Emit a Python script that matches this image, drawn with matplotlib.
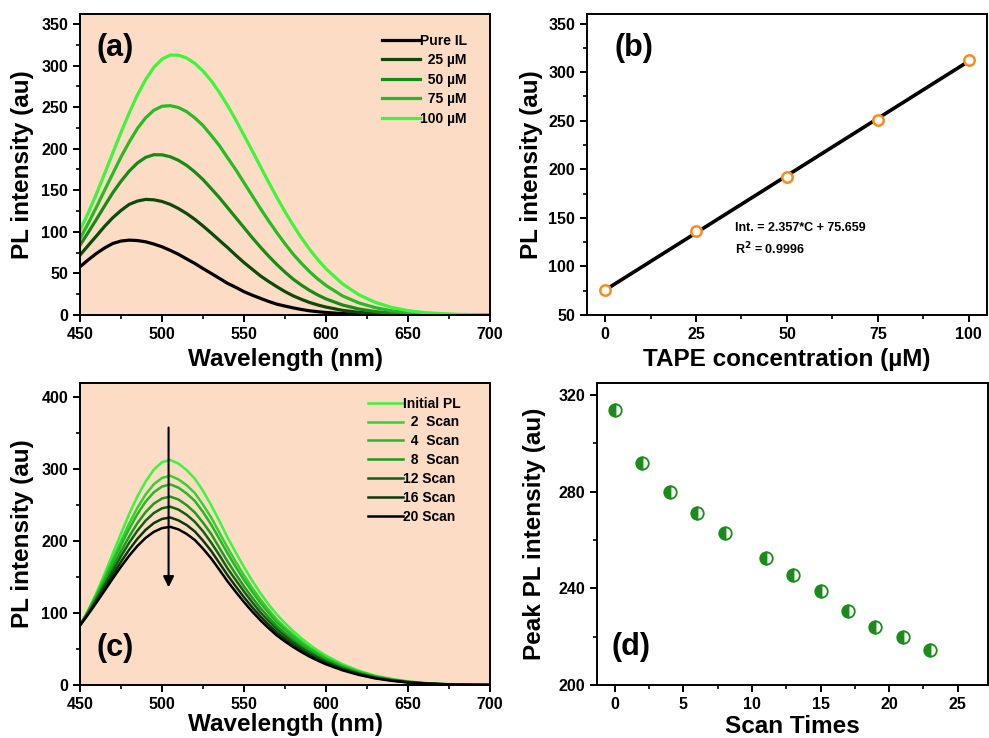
import numpy as np
import matplotlib
matplotlib.use("Agg")
import matplotlib.pyplot as plt
from matplotlib.ticker import MultipleLocator

plt.rcParams['font.family'] = ['Liberation Sans', 'DejaVu Sans']
plt.rcParams['font.weight'] = 'bold'
plt.rcParams['axes.labelweight'] = 'bold'
plt.rcParams['axes.linewidth'] = 1.4

# ---------------- data ----------------
wavelength = [450, 455, 460, 465, 470, 475, 480, 485, 490, 495, 500, 505, 510,
              515, 520, 525, 530, 535, 540, 545, 550, 555, 560, 565, 570, 575,
              580, 585, 590, 595, 600, 610, 620, 630, 640, 650, 660, 670, 680,
              690, 700]

# (a) PL spectra vs TAPE concentration
pl_pure_il = [58, 66.3, 74, 80.6, 86, 88.9, 90, 89.5, 88, 85.3, 82, 77.7, 73,
              67.4, 62, 55.8, 50, 44, 38, 33.2, 28, 23.8, 20, 16.3, 13, 10.7,
              8.5, 6.6, 5, 3.9, 3, 1.7, 1, 0.5, 0.3, 0.2, 0.1, 0.1, 0, 0, 0]
pl_25uM = [72, 83.6, 95, 106.6, 117, 125.7, 133, 137, 139, 138.5, 136.5, 133,
           128, 122, 115, 107, 98.5, 89.7, 81, 71.8, 63, 55, 47, 40.3, 34, 28.1,
           23, 18.8, 15, 12, 9.5, 5.6, 3.2, 1.7, 0.9, 0.5, 0.2, 0.1, 0, 0, 0]
pl_50uM = [84, 99.2, 115, 131.2, 147, 160.8, 173, 182.8, 189.5, 192.7, 192.6,
           190.3, 186, 179.9, 172, 162.8, 152, 141, 129, 117, 105, 93, 81.6,
           70.8, 60.7, 51.5, 43, 35.9, 29.5, 24, 19.3, 12, 7.2, 4.1, 2.3, 1.2,
           0.6, 0.3, 0.1, 0, 0]
pl_75uM = [92, 110, 129.6, 150, 170, 190, 208, 224.3, 237, 246.2, 251, 251.7,
           249.5, 244.5, 237, 227.8, 216, 203.6, 189, 174.6, 159, 143.5, 128,
           113.2, 99, 85.6, 73, 62.1, 52, 43.2, 35.5, 23, 14.5, 8.8, 5, 2.8,
           1.5, 0.8, 0.4, 0.2, 0.1]
pl_100uM = [102, 122.7, 145.6, 169.9, 195, 219.6, 243, 264.7, 283, 297.8, 307.7,
            312.6, 312.4, 309, 302.6, 293.4, 281.7, 267.6, 251.7, 234.5, 216,
            197.4, 178.5, 159.7, 141.5, 124.1, 107.8, 92.7, 78.9, 66.5, 55.5,
            37.5, 24.3, 15.2, 9.1, 5.2, 2.9, 1.6, 0.8, 0.4, 0.2]
conc_labels = ["Pure IL", "  25 µM", "  50 µM", "  75 µM", "100 µM"]
conc_colors = ["#000000", "#0c4a0c", "#158c15", "#24bb24", "#3cf53c"]

# (b) linear fit
tape_conc = [0, 25, 50, 75, 100]
tape_peak = [75.5, 136.5, 192.5, 251, 312.5]
fit_slope = 2.357
fit_intercept = 75.659

# (c) PL spectra vs scan number
scan_init = [83, 104, 128, 154.7, 183, 210.6, 238, 262.4, 283, 299.5, 310, 313,
             308, 299, 287, 270, 250, 228, 205, 184, 164, 145, 128, 112, 98, 86,
             75, 65, 56, 48, 41, 29, 20, 13, 8.5, 5, 2.8, 1.5, 0.7, 0.3, 0.1]
scan_2 = [83, 103.2, 125.6, 149.9, 175, 200.4, 224.6, 246.5, 265, 279.2, 288,
          291, 286, 277.9, 267, 250.8, 233, 211.8, 191, 171.1, 152.5, 135, 119,
          104.5, 91, 80, 70, 60.5, 52, 44.8, 38, 27, 18.6, 12.2, 7.9, 4.7, 2.6,
          1.5, 0.6, 0.3, 0.1]
scan_4 = [83, 102.5, 124, 147, 171, 194.5, 217, 237.7, 255, 268, 276, 279,
          274.5, 266.4, 256, 240.5, 223, 203.1, 183, 164, 146, 129.5, 114,
          100.2, 87, 76.7, 67, 58, 50, 43, 36.5, 26, 17.9, 11.7, 7.5, 4.5, 2.5,
          1.4, 0.6, 0.3, 0.1]
scan_8 = [83, 101.4, 121.4, 142.7, 164.6, 186.2, 206.6, 225.1, 240.5, 252.2,
          259.5, 262, 258, 250.2, 240, 225.8, 210, 190.7, 171.6, 154.1, 137,
          121.6, 107, 94.1, 82, 72, 63, 54.5, 47, 40.3, 34.3, 24.4, 16.8, 11,
          7.1, 4.2, 2.4, 1.3, 0.5, 0.3, 0.1]
scan_12 = [83, 100.4, 119, 139, 159, 179.1, 198, 214.6, 228.6, 239.2, 245.8,
           248, 244, 236.8, 227, 213.8, 198, 180.5, 162, 145.8, 130, 115.1, 101,
           89, 77.6, 68.2, 59.5, 51.6, 44.4, 38.2, 32.5, 23, 15.9, 10.4, 6.7, 4,
           2.2, 1.2, 0.5, 0.2, 0.1]
scan_16 = [83, 99.3, 116.8, 135, 153.4, 171.4, 188.3, 203.3, 215.8, 225.2, 231,
           233, 229, 222.5, 213.6, 200.8, 186.4, 169.6, 152.6, 137, 122, 108.1,
           95.3, 83.6, 73, 64.1, 56, 48.5, 41.7, 35.9, 30.5, 21.7, 14.9, 9.8,
           6.3, 3.7, 2.1, 1.2, 0.5, 0.2, 0.1]
scan_20 = [83, 98.3, 114.6, 131.3, 148.2, 164.6, 179.9, 193.4, 204.6, 213,
           218.2, 220, 216.5, 210.1, 201.7, 189.6, 176, 160.2, 144, 129.4,
           115.3, 102.1, 90, 79, 68.9, 60.5, 52.8, 45.8, 39.4, 33.9, 28.8, 20.5,
           14.1, 9.2, 5.9, 3.5, 2, 1.1, 0.4, 0.2, 0.1]
scan_labels = ["Initial PL", "  2  Scan", "  4  Scan", "  8  Scan", "12 Scan",
               "16 Scan", "20 Scan"]
scan_colors = ["#3cf53c", "#2fd42f", "#25b825", "#1c9c1c", "#125f12", "#0a380a",
               "#000000"]

# (d) peak intensity vs scan times
scan_times = [0, 2, 4, 6, 8, 11, 13, 15, 17, 19, 21, 23]
scan_peak = [314, 292, 280, 271, 263, 252.5, 245.5, 239, 230.6, 224, 219.7, 214.5]

bg = "#fcdcc4"
tick_fs = 11.5
label_fs = 17.5
panel_fs = 22
legend_fs = 10


def style_axes(ax, xmaj, xmin, ymaj, ymin):
    ax.xaxis.set_major_locator(MultipleLocator(xmaj))
    ax.xaxis.set_minor_locator(MultipleLocator(xmin))
    ax.yaxis.set_major_locator(MultipleLocator(ymaj))
    ax.yaxis.set_minor_locator(MultipleLocator(ymin))
    ax.tick_params(which='major', direction='out', length=5, width=1.4,
                   labelsize=tick_fs)
    ax.tick_params(which='minor', direction='out', length=3, width=1.2)


fig = plt.figure(figsize=(9.89, 7.38), dpi=100)
ax_a = fig.add_axes([0.0809, 0.5732, 0.4146, 0.4079])
ax_b = fig.add_axes([0.5935, 0.5732, 0.4044, 0.4079])
ax_c = fig.add_axes([0.0809, 0.0718, 0.4146, 0.4092])
ax_d = fig.add_axes([0.6036, 0.0718, 0.3953, 0.4092])

# ---- (a) ----
ax_a.set_facecolor(bg)
for ys, lab, col in zip([pl_pure_il, pl_25uM, pl_50uM, pl_75uM, pl_100uM],
                        conc_labels, conc_colors):
    ax_a.plot(wavelength, ys, color=col, lw=2.3, label=lab,
              solid_joinstyle='round')
ax_a.set_xlim(450, 700)
ax_a.set_ylim(0, 362)
style_axes(ax_a, 50, 25, 50, 25)
ax_a.set_xlabel("Wavelength (nm)", fontsize=label_fs)
ax_a.set_ylabel("PL intensity (au)", fontsize=label_fs)
ax_a.xaxis.set_label_coords(0.5, -0.11)
ax_a.yaxis.set_label_coords(-0.112, 0.5)
ax_a.legend(loc='upper left', bbox_to_anchor=(0.737, 0.935), frameon=False,
            fontsize=legend_fs, handlelength=2.7, handletextpad=0.0,
            labelspacing=0.4, borderpad=0, borderaxespad=0)
ax_a.text(0.04, 0.887, "(a)", transform=ax_a.transAxes, fontsize=panel_fs,
          va='center', ha='left')

# ---- (b) ----
ax_b.plot(tape_conc, tape_peak, 'o', ms=7.5, mfc='white', mec='#ff8a1c',
          mew=1.8, zorder=3)
fit_x = [tape_conc[0], tape_conc[-1]]
fit_y = [fit_slope * v + fit_intercept for v in fit_x]
ax_b.plot(fit_x, fit_y, color='black', lw=2.6, zorder=2)
ax_b.set_xlim(-5, 105)
ax_b.set_ylim(50, 360)
style_axes(ax_b, 25, 12.5, 50, 25)
ax_b.set_xlabel("TAPE concentration (µM)", fontsize=label_fs)
ax_b.set_ylabel("PL intensity (au)", fontsize=label_fs)
ax_b.xaxis.set_label_coords(0.5, -0.11)
ax_b.yaxis.set_label_coords(-0.11, 0.5)
ax_b.text(0.37, 0.29, "Int. = 2.357*C + 75.659", transform=ax_b.transAxes,
          fontsize=9, va='center')
ax_b.text(0.37, 0.22, "R$^\\mathbf{2}$ = 0.9996", transform=ax_b.transAxes,
          fontsize=9, va='center')
ax_b.text(0.07, 0.887, "(b)", transform=ax_b.transAxes, fontsize=panel_fs,
          va='center', ha='left')

# ---- (c) ----
ax_c.set_facecolor(bg)
for ys, lab, col in zip([scan_init, scan_2, scan_4, scan_8, scan_12, scan_16,
                         scan_20], scan_labels, scan_colors):
    ax_c.plot(wavelength, ys, color=col, lw=1.8, label=lab,
              solid_joinstyle='round')
ax_c.annotate("", xy=(504, 132), xytext=(504, 362),
              arrowprops=dict(arrowstyle='-|>', color='black', lw=1.5,
                              mutation_scale=16))
ax_c.set_xlim(450, 700)
ax_c.set_ylim(0, 420)
style_axes(ax_c, 50, 25, 100, 50)
ax_c.set_xlabel("Wavelength (nm)", fontsize=label_fs)
ax_c.set_ylabel("PL intensity (au)", fontsize=label_fs)
ax_c.xaxis.set_label_coords(0.5, -0.093)
ax_c.yaxis.set_label_coords(-0.112, 0.5)
ax_c.legend(loc='upper left', bbox_to_anchor=(0.702, 0.955), frameon=False,
            fontsize=legend_fs, handlelength=2.5, handletextpad=0.0,
            labelspacing=0.35, borderpad=0, borderaxespad=0)
ax_c.text(0.04, 0.122, "(c)", transform=ax_c.transAxes, fontsize=panel_fs,
          va='center', ha='left')

# ---- (d) ----
ax_d.plot(scan_times, scan_peak, 'o', ms=9, color='#1a8c1a',
          fillstyle='left', markerfacecoloralt='white', mec='#1a8c1a', mew=1.3,
          ls='none')
ax_d.set_xlim(-1.3, 27.2)
ax_d.set_ylim(200, 325)
style_axes(ax_d, 5, 2.5, 40, 20)
ax_d.set_xlabel("Scan Times", fontsize=label_fs)
ax_d.set_ylabel("Peak PL intensity (au)", fontsize=label_fs)
ax_d.xaxis.set_label_coords(0.5, -0.1)
ax_d.yaxis.set_label_coords(-0.13, 0.5)
ax_d.text(0.038, 0.126, "(d)", transform=ax_d.transAxes, fontsize=panel_fs,
          va='center', ha='left')

fig.savefig("out.png", dpi=100)
